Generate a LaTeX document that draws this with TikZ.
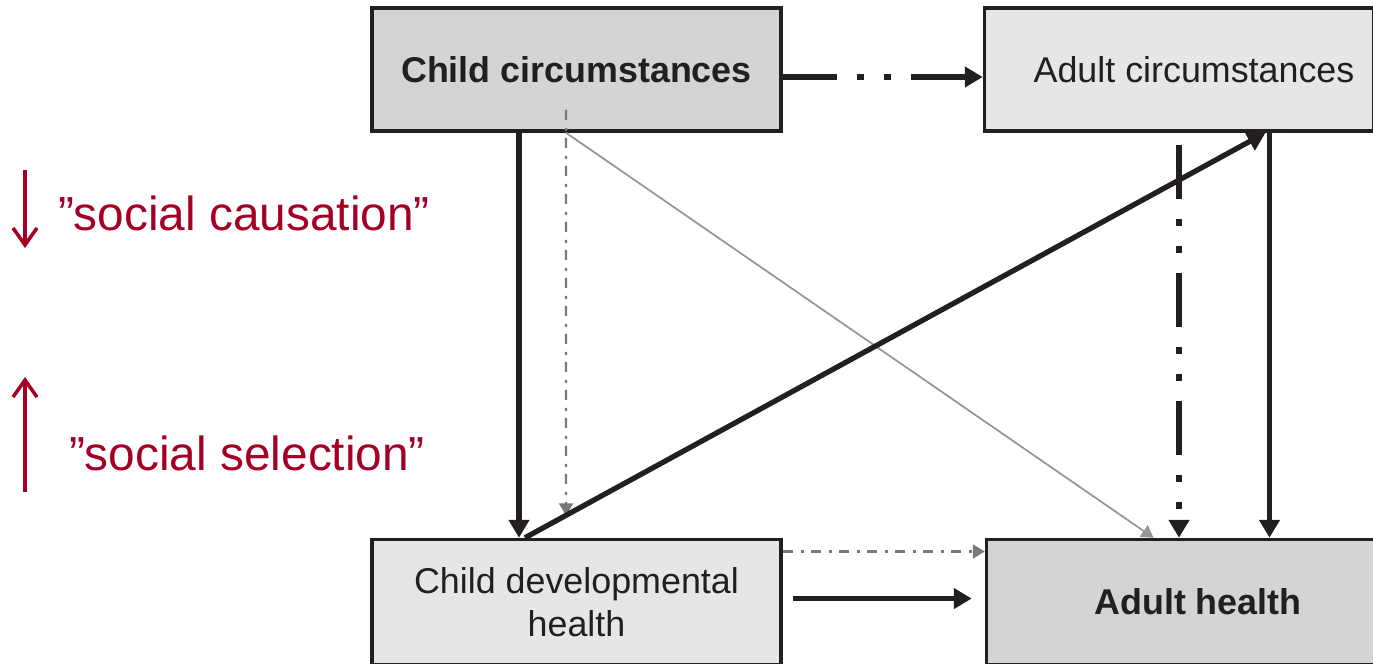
\documentclass[tikz,border=0pt]{standalone}
\usepackage{fontspec}
\setmainfont{Liberation Sans}
\usetikzlibrary{arrows.meta,positioning,calc}
\definecolor{boxline}{RGB}{35,31,32}
\definecolor{boxdark}{RGB}{211,212,214}
\definecolor{boxlight}{RGB}{230,230,232}
\definecolor{socred}{RGB}{163,0,36}
\definecolor{dotgray}{RGB}{120,120,120}
\definecolor{thingray}{RGB}{150,150,150}

\begin{document}
\begin{tikzpicture}[
   box/.style={draw=boxline, line width=1pt, fill=boxlight, rectangle, minimum width=4.09cm, minimum height=1.23cm, inner sep=0pt, text=boxline, align=center, font=\fontsize{10.2}{12.2}\selectfont},
   darkbox/.style={box, fill=boxdark, font=\fontsize{10.2}{12.2}\selectfont\bfseries},
   solidarrow/.style={draw=boxline, line width=1.5pt, -{Triangle[length=1.8mm,width=2mm]}},
   dashdotarrow/.style={solidarrow, line width=1.7pt, dash pattern=on 5.4mm off 2mm on 0.7mm off 2mm on 0.7mm off 2mm},
   dotarrow/.style={draw=dotgray, line width=0.6pt, dash pattern=on 1mm off 0.8mm on 0.3mm off 0.7mm, -{Triangle[length=1.2mm,width=1.4mm]}},
   thinarrow/.style={draw=thingray, line width=0.5pt, -{Triangle[length=1.2mm,width=1.4mm]}},
   redarrow/.style={draw=socred, line width=1pt, -{Straight Barb[length=1.7mm,width=2.4mm]}},
   redtext/.style={text=socred, font=\fontsize{13.6}{16}\selectfont, inner sep=0pt}
]

   \useasboundingbox (0,0) rectangle (13.73,-6.63);

   \node[darkbox] (child) at (5.765,-0.695) {Child circumstances};
   \node[box, minimum width=3.89cm] (adult) [right=2cm of child] {\hspace*{0.3cm}\raisebox{-0.4mm}{Adult circumstances}};
   \node[box, minimum height=1.25cm] (develop) [below=4.05cm of child] {Child developmental\\health};
   \node[darkbox, minimum width=3.93cm, minimum height=1.25cm] (health) [right=2.02cm of develop] {\hspace*{0.3cm}Adult health};

   \coordinate (dotstart) at ([xshift=-1.05mm,yshift=2.3mm]child.south);
   \coordinate (dotbase) at (dotstart |- develop.north);
   \coordinate (diagA) at ([xshift=-5.15mm]develop.north);
   \coordinate (diagB) at ([xshift=8.65mm]adult.south);
   \coordinate (thinstart) at ([xshift=-1.05mm]child.south);
   \coordinate (thinend) at ([xshift=-2.95mm]health.north);
   \coordinate (dotrow) at ([yshift=5.05mm]develop.east);
   \coordinate (solidrow) at ([yshift=0.35mm]develop.east);

   \draw[dashdotarrow] ([yshift=-0.75mm]child.east) -- ([yshift=-0.75mm]adult.west);
   \draw[solidarrow] ([xshift=-5.75mm]child.south) -- ([xshift=-5.75mm]develop.north);
   \draw[dotarrow] (dotstart) -- (intersection of dotstart--dotbase and diagA--diagB);
   \draw[thinarrow] (thinstart) -- (thinend);
   \draw[solidarrow] (diagA) -- (diagB);
   \draw[dashdotarrow, shorten <=1.2mm] (adult.south) -- (adult.south |- health.north);
   \draw[solidarrow] ([xshift=9.05mm]adult.south) -- ([xshift=9.05mm]adult.south |- health.north);
   \draw[dotarrow] (dotrow) -- (dotrow -| health.west);
   \draw[solidarrow, shorten <=1mm, shorten >=1.3mm] (solidrow) -- (solidrow -| health.west);

   \node[redtext, anchor=base] (causation) at (2.44,-2.30) {”social causation”};
   \node[redtext, anchor=base] (selection) at (2.47,-4.70) {”social selection”};
   \coordinate (causA) at (0.25,-1.70);
   \coordinate (causB) at (0.25,-2.48);
   \coordinate (selA) at (0.25,-4.92);
   \coordinate (selB) at (0.25,-3.77);
   \draw[redarrow] (causA) -- (causB);
   \draw[redarrow] (selA) -- (selB);

\end{tikzpicture}
\end{document}
